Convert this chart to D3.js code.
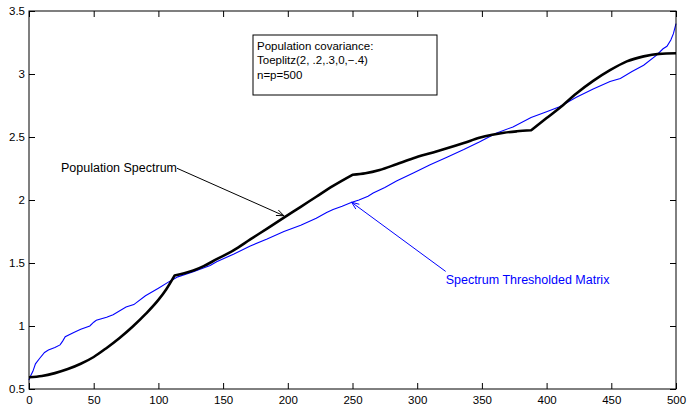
<!DOCTYPE html>
<html>
<head>
<meta charset="utf-8">
<script src="https://cdn.jsdelivr.net/npm/d3@7"></script>
<style>
  html, body { margin: 0; padding: 0; background: #fff; }
  svg { display: block; }
  text { font-family: "Liberation Sans", Arial, Helvetica, sans-serif; }
</style>
</head>
<body>
<svg id="chart" width="689" height="406"></svg>
<script>
// ---- data ----
const xTicks = [0, 50, 100, 150, 200, 250, 300, 350, 400, 450, 500];
const yTicks = [0.5, 1, 1.5, 2, 2.5, 3, 3.5];
const yTickLabels = ["0.5", "1", "1.5", "2", "2.5", "3", "3.5"];

// Population spectrum (black); kinks at these indices
const popKinks = [112.5, 250, 388];
const popIndex = [0, 10, 20, 30, 40, 50, 60, 70, 80, 90, 100, 106, 112.5, 120, 127, 135, 145, 158, 171, 184, 197, 210, 222, 235, 250, 260, 271, 284, 297, 310, 323, 336, 348, 358, 367, 377, 388, 400, 410, 423, 436, 449, 462, 475, 487, 500];
const popValue = [0.593, 0.603, 0.626, 0.658, 0.70, 0.754, 0.826, 0.905, 0.994, 1.094, 1.207, 1.29, 1.40, 1.418, 1.44, 1.475, 1.53, 1.60, 1.687, 1.773, 1.86, 1.946, 2.026, 2.112, 2.20, 2.212, 2.238, 2.284, 2.331, 2.371, 2.41, 2.452, 2.494, 2.518, 2.534, 2.545, 2.553, 2.65, 2.73, 2.845, 2.945, 3.03, 3.10, 3.14, 3.16, 3.165];

// Spectrum of thresholded matrix (blue)
const thrIndex = [0, 1, 3, 5, 8, 12, 15, 20, 24, 26, 28, 35, 40, 47, 50, 52, 60, 65, 75, 81, 90, 100, 108, 115, 127, 140, 145, 158, 171, 184, 197, 210, 222, 230, 235, 242, 249, 255, 262, 266, 275, 284, 297, 310, 323, 336, 348, 361, 374, 388, 400, 410, 423, 436, 449, 457, 466, 475, 485, 490, 493, 496, 498, 500];
const thrValue = [0.57, 0.60, 0.64, 0.70, 0.74, 0.79, 0.81, 0.83, 0.85, 0.88, 0.915, 0.95, 0.975, 1.00, 1.03, 1.045, 1.07, 1.09, 1.15, 1.17, 1.24, 1.30, 1.35, 1.39, 1.43, 1.48, 1.51, 1.57, 1.635, 1.69, 1.75, 1.80, 1.855, 1.90, 1.925, 1.95, 1.98, 2.00, 2.03, 2.055, 2.10, 2.15, 2.215, 2.28, 2.34, 2.40, 2.46, 2.53, 2.58, 2.655, 2.70, 2.74, 2.815, 2.88, 2.94, 2.965, 3.02, 3.07, 3.15, 3.20, 3.22, 3.27, 3.32, 3.40];

const boxLines = ["Population covariance:", "Toeplitz(2, .2,.3,0,\u2212.4)", "n=p=500"];
const popLabel = "Population Spectrum";
const thrLabel = "Spectrum Thresholded Matrix";

// ---- layout ----
const svg = d3.select("#chart");
const mLeft = 29, mRight = 676, mTop = 11, mBottom = 389;
const x = d3.scaleLinear().domain([0, 500]).range([mLeft, mRight]);
const y = d3.scaleLinear().domain([0.5, 3.5]).range([mBottom, mTop]);

// lines
const popData = popIndex.map((d, i) => [d, popValue[i]]);
const thrData = thrIndex.map((d, i) => [d, thrValue[i]]);
const line = d3.line().x(d => x(d[0])).y(d => y(d[1]));
const smooth = d3.line().x(d => x(d[0])).y(d => y(d[1])).curve(d3.curveMonotoneX);

svg.append("path").datum(thrData).attr("d", line)
  .attr("fill", "none").attr("stroke", "#0000ff").attr("stroke-width", 1.1);

// black: smooth pieces between kinks
const bounds = [0, ...popKinks, 500];
let dStr = "";
for (let k = 0; k < bounds.length - 1; k++) {
  const seg = popData.filter(d => d[0] >= bounds[k] && d[0] <= bounds[k + 1]);
  const s = smooth(seg);
  dStr += k === 0 ? s : "L" + s.slice(1);
}
svg.append("path").attr("d", dStr)
  .attr("fill", "none").attr("stroke", "#000").attr("stroke-width", 2.6)
  .attr("stroke-linejoin", "round");

// axes box
svg.append("rect").attr("x", mLeft).attr("y", mTop)
  .attr("width", mRight - mLeft).attr("height", mBottom - mTop)
  .attr("fill", "none").attr("stroke", "#000").attr("stroke-width", 1);

// ticks (inward, all four sides)
const tl = 6;
const axB = svg.append("g").attr("transform", `translate(0,${mBottom})`)
  .call(d3.axisBottom(x).tickValues(xTicks).tickSizeInner(-tl).tickSizeOuter(0).tickPadding(7).tickFormat(d3.format("d")));
const axT = svg.append("g").attr("transform", `translate(0,${mTop})`)
  .call(d3.axisTop(x).tickValues(xTicks).tickSizeInner(-tl).tickSizeOuter(0).tickFormat(""));
const axL = svg.append("g").attr("transform", `translate(${mLeft},0)`)
  .call(d3.axisLeft(y).tickValues(yTicks).tickSizeInner(-tl).tickSizeOuter(0).tickPadding(4).tickFormat((d, i) => yTickLabels[i]));
const axR = svg.append("g").attr("transform", `translate(${mRight},0)`)
  .call(d3.axisRight(y).tickValues(yTicks).tickSizeInner(-tl).tickSizeOuter(0).tickFormat(""));
[axB, axT, axL, axR].forEach(g => {
  g.select(".domain").remove();
  g.selectAll("line").attr("stroke", "#000");
  g.selectAll("text").attr("fill", "#000").attr("font-size", 11.5)
    .attr("font-family", "Liberation Sans, Arial, sans-serif");
});

// text box
const bx = 253, by = 35, bw = 184, bh = 60;
svg.append("rect").attr("x", bx).attr("y", by).attr("width", bw).attr("height", bh)
  .attr("fill", "#fff").attr("stroke", "#000").attr("stroke-width", 1);
svg.selectAll(".boxline").data(boxLines).enter().append("text")
  .attr("x", bx + 4).attr("y", (d, i) => by + 15 + i * 14.3)
  .attr("font-size", 11.5).attr("fill", "#000").text(d => d);

// annotation arrows
function arrow(x1, y1, x2, y2, color) {
  svg.append("line").attr("x1", x1).attr("y1", y1).attr("x2", x2).attr("y2", y2)
    .attr("stroke", color).attr("stroke-width", 1);
  const a = Math.atan2(y2 - y1, x2 - x1), L = 8, w = 0.38;
  const p1 = [x2 - L * Math.cos(a - w), y2 - L * Math.sin(a - w)];
  const p2 = [x2 - L * Math.cos(a + w), y2 - L * Math.sin(a + w)];
  svg.append("path").attr("d", `M${p1}L${x2},${y2}L${p2}`)
    .attr("fill", "none").attr("stroke", color).attr("stroke-width", 1);
}

// Population spectrum label (anchored in data coordinates)
const popText = svg.append("text").attr("x", x(24.7)).attr("y", y(2.22))
  .attr("font-size", 12.5).attr("fill", "#000").text(popLabel);
const pw = popText.node().getComputedTextLength();
arrow(x(24.7) + pw, y(2.22) - 4, x(197), y(1.875), "#000");

// Thresholded label
svg.append("text").attr("x", x(322)).attr("y", y(1.33))
  .attr("font-size", 12.5).attr("fill", "#0000ff").text(thrLabel);
arrow(x(322), y(1.33) - 13, x(249.3), y(1.982), "#0000ff");
</script>
</body>
</html>
